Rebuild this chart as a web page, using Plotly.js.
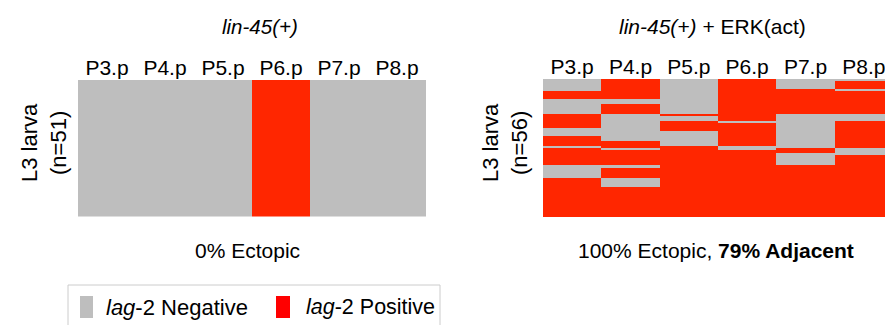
<!DOCTYPE html>
<html>
<head>
<meta charset="utf-8">
<script src="https://cdn.plot.ly/plotly-3.0.1.min.js"></script>
<style>
html, body { margin: 0; padding: 0; overflow: hidden; background: #fff; }
#chart { width: 900px; height: 325px; }
</style>
</head>
<body>
<div id="chart"></div>
<script>
// ---- Data ----
const cells = ["P3.p", "P4.p", "P5.p", "P6.p", "P7.p", "P8.p"];

// lin-45(+) : 51 larvae, 1 = lag-2 positive, 0 = negative
const leftP3 = [0,0,0,0,0,0,0,0,0,0,0,0,0,0,0,0,0,0,0,0,0,0,0,0,0,0,0,0,0,0,0,0,0,0,0,0,0,0,0,0,0,0,0,0,0,0,0,0,0,0,0];
const leftP4 = [0,0,0,0,0,0,0,0,0,0,0,0,0,0,0,0,0,0,0,0,0,0,0,0,0,0,0,0,0,0,0,0,0,0,0,0,0,0,0,0,0,0,0,0,0,0,0,0,0,0,0];
const leftP5 = [0,0,0,0,0,0,0,0,0,0,0,0,0,0,0,0,0,0,0,0,0,0,0,0,0,0,0,0,0,0,0,0,0,0,0,0,0,0,0,0,0,0,0,0,0,0,0,0,0,0,0];
const leftP6 = [1,1,1,1,1,1,1,1,1,1,1,1,1,1,1,1,1,1,1,1,1,1,1,1,1,1,1,1,1,1,1,1,1,1,1,1,1,1,1,1,1,1,1,1,1,1,1,1,1,1,1];
const leftP7 = [0,0,0,0,0,0,0,0,0,0,0,0,0,0,0,0,0,0,0,0,0,0,0,0,0,0,0,0,0,0,0,0,0,0,0,0,0,0,0,0,0,0,0,0,0,0,0,0,0,0,0];
const leftP8 = [0,0,0,0,0,0,0,0,0,0,0,0,0,0,0,0,0,0,0,0,0,0,0,0,0,0,0,0,0,0,0,0,0,0,0,0,0,0,0,0,0,0,0,0,0,0,0,0,0,0,0];

// lin-45(+) + ERK(act) : 56 larvae
const rightP3 = [0,0,0,0,0, 1,1,1, 0,0,0,0,0,0, 1,1,1,1,1,1, 0,0,0, 1,1,1,1, 0, 1,1,1,1,1,1,1, 0,0,0,0,0, 1,1,1,1,1,1,1,1,1,1,1,1,1,1,1,1];
const rightP4 = [1,1,1,1,1,1,1,1, 0,0, 1,1,1,1, 0,0,0,0,0,0,0,0,0,0,0, 1,1,1, 0, 1,1,1,1,1,1, 0, 1,1,1,1, 0,0,0,0, 1,1,1,1,1,1,1,1,1,1,1,1];
const rightP5 = [0,0,0,0,0,0,0,0,0,0,0,0,0,0, 1, 0,0, 1,1,1,1, 0,0,0,0,0,0, 1,1,1,1,1,1,1,1,1,1,1,1,1,1,1,1,1,1,1,1,1,1,1,1,1,1,1,1,1];
const rightP6 = [1,1,1,1,1,1,1,1,1,1,1,1,1,1,1,1,1, 0, 1,1,1,1,1,1,1,1,1, 0,0, 1,1,1,1,1,1,1,1,1,1,1,1,1,1,1,1,1,1,1,1,1,1,1,1,1,1,1];
const rightP7 = [0,0,0,0, 1,1,1,1,1,1,1,1,1,1, 0,0,0,0,0,0,0,0,0,0,0,0,0,0, 1,1, 0,0,0,0,0, 1,1,1,1,1,1,1,1,1,1,1,1,1,1,1,1,1,1,1,1,1];
const rightP8 = [0, 1,1,1, 0, 1,1,1,1,1,1,1,1,1, 0,0,0, 1,1,1,1,1,1,1,1,1,1,1, 0,0,0, 1,1,1,1,1,1,1,1,1,1,1,1,1,1,1,1,1,1,1,1,1,1,1,1,1];

// ---- Build tables ----
function toZ(cols) {
  const n = cols[0].length;
  const z = [];
  for (let r = 0; r < n; r++) z.push(cols.map(c => c[r]));
  return z;
}
const leftZ = toZ([leftP3, leftP4, leftP5, leftP6, leftP7, leftP8]);
const rightZ = toZ([rightP3, rightP4, rightP5, rightP6, rightP7, rightP8]);
const leftRows = leftZ.map((_, i) => i + 1);
const rightRows = rightZ.map((_, i) => i + 1);

const GRAY = "#bebebe";
const RED = "#ff2600";
const cs = [[0, GRAY], [0.5, GRAY], [0.5, RED], [1, RED]];

const W = 900, H = 325;
const px = v => v / W;
const py = v => 1 - v / H;

const traces = [
  { type: "heatmap", x: cells, y: leftRows, z: leftZ, xaxis: "x", yaxis: "y",
    colorscale: cs, zmin: 0, zmax: 1, showscale: false, hoverinfo: "skip" },
  { type: "heatmap", x: cells, y: rightRows, z: rightZ, xaxis: "x2", yaxis: "y2",
    colorscale: cs, zmin: 0, zmax: 1, showscale: false, hoverinfo: "skip" }
];

const FONT = "Liberation Sans, Arial, sans-serif";
const xCommon = { side: "top", showgrid: false, zeroline: false, showline: false, ticks: "",
  tickfont: { family: FONT, size: 21, color: "#000" }, fixedrange: true };
const yCommon = { autorange: "reversed", showticklabels: false, showgrid: false, zeroline: false,
  showline: false, ticks: "", fixedrange: true };

const ann = (x, y, text, size, extra) => Object.assign({ xref: "paper", yref: "paper", x: px(x), y: py(y),
  text, showarrow: false, xanchor: "center", yanchor: "middle",
  font: { family: FONT, size, color: "#000" } }, extra || {});

const layout = {
  width: W, height: H,
  margin: { l: 0, r: 0, t: 0, b: 0 },
  paper_bgcolor: "#fff", plot_bgcolor: "#fff",
  showlegend: false,
  xaxis: Object.assign({}, xCommon, { domain: [px(78), px(426)], anchor: "y" }),
  yaxis: Object.assign({}, yCommon, { domain: [py(216.5), py(80)], anchor: "x" }),
  xaxis2: Object.assign({}, xCommon, { domain: [px(543), px(893)], anchor: "y2" }),
  yaxis2: Object.assign({}, yCommon, { domain: [py(217), py(79)], anchor: "x2" }),
  annotations: [
    ann(260, 27, "<i>lin-45(+)</i>", 20.5),
    ann(712, 27, "<i>lin-45(+)</i> + ERK(act)", 21),
    ann(44, 143, "L3 larva<br>(n=51)", 22, { textangle: -90 }),
    ann(505, 143, "L3 larva<br>(n=56)", 22, { textangle: -90 }),
    ann(247, 250, "0% Ectopic", 21),
    ann(716, 250, "100% Ectopic, <b>79% Adjacent</b>", 21),
    ann(104, 307, "<i>lag</i>-2 Negative", 22, { xanchor: "left" }),
    ann(304, 307, "<i>lag</i>-2 Positive", 21.5, { xanchor: "left" })
  ],
  shapes: [
    { type: "rect", xref: "paper", yref: "paper", x0: px(68), x1: px(440), y0: py(340), y1: py(285),
      line: { color: "#cccccc", width: 1 }, fillcolor: "rgba(0,0,0,0)" },
    { type: "rect", xref: "paper", yref: "paper", x0: px(80), x1: px(93), y0: py(318), y1: py(296),
      line: { width: 0 }, fillcolor: GRAY },
    { type: "rect", xref: "paper", yref: "paper", x0: px(276), x1: px(290), y0: py(318), y1: py(296),
      line: { width: 0 }, fillcolor: "#ff0000" }
  ]
};

Plotly.newPlot("chart", traces, layout, { staticPlot: true, displayModeBar: false });
</script>
</body>
</html>
